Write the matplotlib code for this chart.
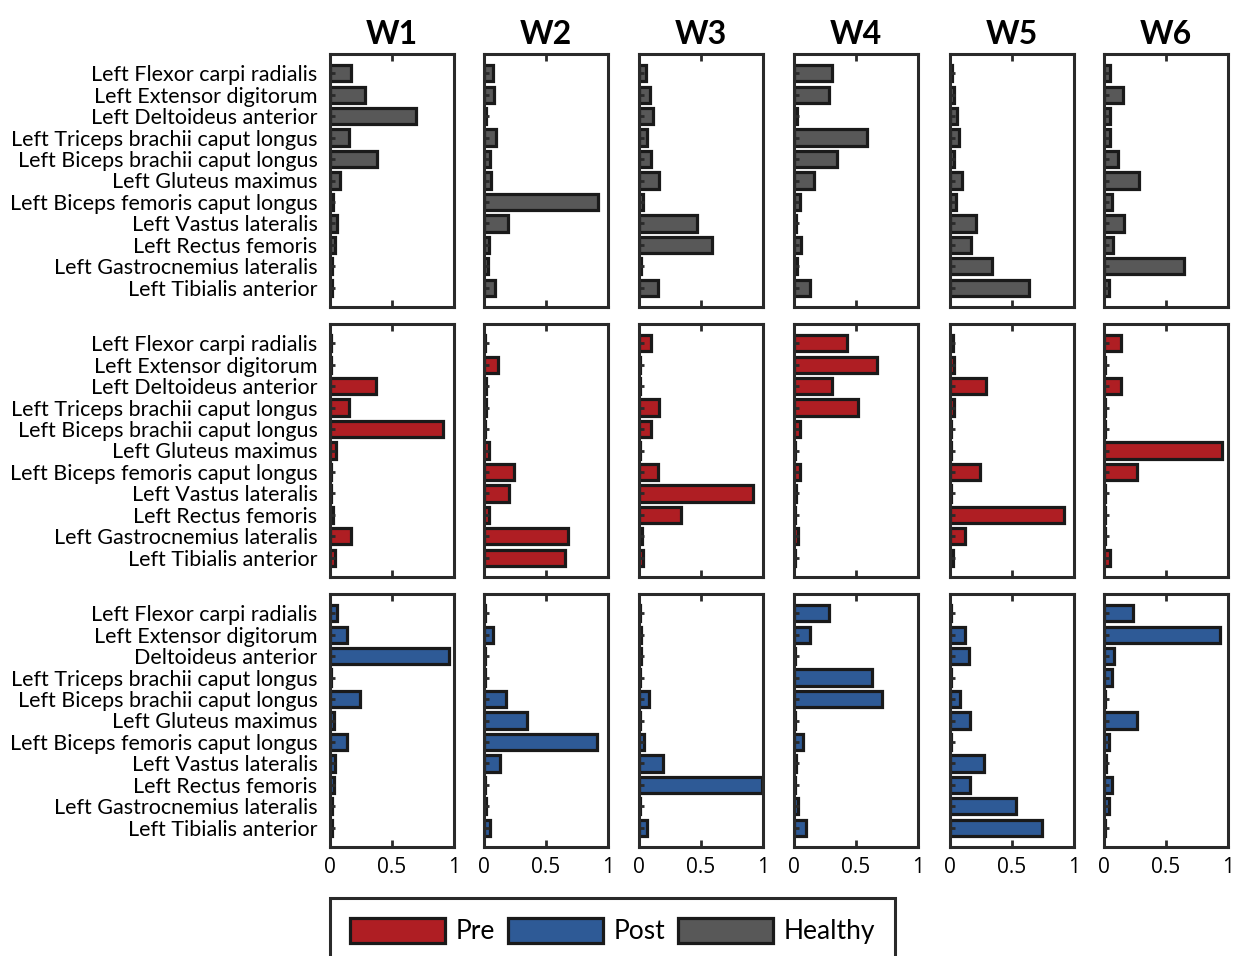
import numpy as np
import matplotlib.pyplot as plt
from matplotlib.patches import Patch

plt.rcParams['font.family'] = ['Lato', 'DejaVu Sans']

muscles = ["Left Flexor carpi radialis", "Left Extensor digitorum", "Left Deltoideus anterior",
           "Left Triceps brachii caput longus", "Left Biceps brachii caput longus",
           "Left Gluteus maximus", "Left Biceps femoris caput longus", "Left Vastus lateralis",
           "Left Rectus femoris", "Left Gastrocnemius lateralis", "Left Tibialis anterior"]
muscles_post = ["Left Flexor carpi radialis", "Left Extensor digitorum", "Deltoideus anterior",
                "Left Triceps brachii caput longus", "Left Biceps brachii caput longus",
                "Left Gluteus maximus", "Left Biceps femoris caput longus", "Left Vastus lateralis",
                "Left Rectus femoris", "Left Gastrocnemius lateralis", "Left Tibialis anterior"]
weights = ["W1", "W2", "W3", "W4", "W5", "W6"]

healthy = [
    [0.17, 0.28, 0.69, 0.15, 0.38, 0.08, 0.025, 0.055, 0.04, 0.015, 0.02],
    [0.07, 0.08, 0.02, 0.10, 0.05, 0.055, 0.92, 0.19, 0.04, 0.035, 0.09],
    [0.06, 0.09, 0.11, 0.065, 0.095, 0.16, 0.03, 0.47, 0.59, 0.02, 0.15],
    [0.31, 0.28, 0.025, 0.59, 0.35, 0.165, 0.045, 0.02, 0.055, 0.025, 0.13],
    [0.02, 0.03, 0.06, 0.075, 0.035, 0.10, 0.05, 0.21, 0.17, 0.34, 0.64],
    [0.05, 0.15, 0.05, 0.05, 0.11, 0.28, 0.065, 0.16, 0.07, 0.645, 0.04],
]
pre = [
    [0.005, 0.005, 0.37, 0.155, 0.91, 0.05, 0.005, 0.01, 0.025, 0.17, 0.04],
    [0.005, 0.11, 0.015, 0.015, 0.005, 0.04, 0.245, 0.20, 0.04, 0.68, 0.65],
    [0.10, 0.005, 0.005, 0.16, 0.095, 0.005, 0.155, 0.92, 0.34, 0.025, 0.03],
    [0.43, 0.67, 0.31, 0.52, 0.05, 0.005, 0.05, 0.02, 0.005, 0.03, 0.005],
    [0.025, 0.035, 0.29, 0.035, 0.005, 0.005, 0.24, 0.005, 0.92, 0.12, 0.025],
    [0.14, 0.005, 0.14, 0.005, 0.005, 0.955, 0.27, 0.005, 0.005, 0.005, 0.045],
]
post = [
    [0.06, 0.135, 0.96, 0.005, 0.24, 0.035, 0.135, 0.04, 0.03, 0.02, 0.02],
    [0.005, 0.075, 0.005, 0.005, 0.18, 0.35, 0.915, 0.13, 0.005, 0.02, 0.05],
    [0.005, 0.02, 0.015, 0.005, 0.08, 0.005, 0.04, 0.19, 0.99, 0.005, 0.065],
    [0.285, 0.125, 0.005, 0.63, 0.71, 0.005, 0.07, 0.015, 0.005, 0.035, 0.10],
    [0.005, 0.12, 0.155, 0.005, 0.08, 0.165, 0.005, 0.275, 0.16, 0.53, 0.745],
    [0.235, 0.935, 0.08, 0.065, 0.005, 0.27, 0.04, 0.02, 0.065, 0.04, 0.005],
]

c_pre = "#af1e23"
c_post = "#2e5a96"
c_healthy = "#585858"
edge = "#1a1a1a"
spine_c = "#2a2a2a"

rows = [(healthy, c_healthy, muscles), (pre, c_pre, muscles), (post, c_post, muscles_post)]

fig = plt.figure(figsize=(12.38, 9.56), dpi=100)

W, H = 1238, 956
col_left = [330, 484, 639, 794, 950, 1104]
row_top = [54, 324, 594]
ax_w, ax_h = 124, 253

y = np.arange(len(muscles))
for r, (data, color, labels) in enumerate(rows):
    for c in range(6):
        ax = fig.add_axes([col_left[c] / W, 1 - (row_top[r] + ax_h) / H, ax_w / W, ax_h / H])
        ax.barh(y, data[c], height=0.76, color=color, edgecolor=edge, linewidth=2.3)
        ax.set_xlim(0, 1)
        ax.set_ylim(len(muscles) - 0.1, -0.9)
        ax.set_xticks([0, 0.5, 1])
        ax.set_yticks(y)
        ax.tick_params(axis='x', direction='in', length=5, width=2, color=spine_c,
                       top=True, bottom=True, labelsize=15, pad=7)
        ax.tick_params(axis='y', direction='in', length=3.5, width=2, color=spine_c,
                       left=True, right=False)
        for s in ax.spines.values():
            s.set_linewidth(2.2)
            s.set_color(spine_c)
        if c == 0:
            ax.set_yticklabels(labels, fontsize=15.5)
            ax.tick_params(axis='y', pad=9)
        else:
            ax.set_yticklabels([])
        if r == 2:
            ax.set_xticklabels(["0", "0.5", "1"], family=['Open Sans', 'DejaVu Sans'])
        else:
            ax.set_xticklabels([])
        if r == 0:
            ax.set_title(weights[c], fontsize=23, fontweight='bold', pad=7)

handles = [Patch(facecolor=c_pre, edgecolor=edge, linewidth=2.3, label="Pre"),
           Patch(facecolor=c_post, edgecolor=edge, linewidth=2.3, label="Post"),
           Patch(facecolor=c_healthy, edgecolor=edge, linewidth=2.3, label="Healthy")]
leg = fig.legend(handles=handles, loc='upper left', bbox_to_anchor=(330 / W, 1 - 898 / H),
                 borderaxespad=0, ncol=3, fontsize=19, handlelength=3.6, handleheight=1.1,
                 handletextpad=0.4, columnspacing=0.5, fancybox=False,
                 borderpad=0.75, framealpha=1)
leg.get_frame().set_edgecolor(spine_c)
leg.get_frame().set_linewidth(2.2)

fig.savefig("out.png", dpi=100)
